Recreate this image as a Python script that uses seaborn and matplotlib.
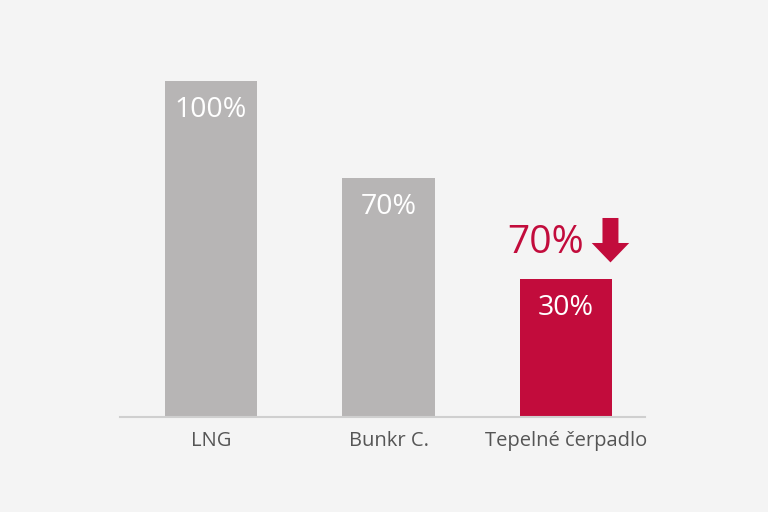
import numpy as np
import pandas as pd
import seaborn as sns
import matplotlib.pyplot as plt
from matplotlib.transforms import offset_copy

# chart data
categories = ['LNG', 'Bunkr C.', 'Tepelné čerpadlo']
bar_heights = [100, 71, 41]
bar_labels = ['100%', '70%', '30%']
reduction_label = '70%'

gray = '#b7b5b5'
red = '#c20c3c'
bg = '#f4f4f4'

sns.set_style('white')
plt.rcParams['font.family'] = ['Open Sans', 'DejaVu Sans']

df = pd.DataFrame({'category': categories, 'height': bar_heights})

fig = plt.figure(figsize=(7.68, 5.12), dpi=100, facecolor=bg)
ax = fig.add_axes([120 / 768, 95 / 512, 525 / 768, 370 / 512])
ax.set_facecolor(bg)

sns.barplot(data=df, x='category', y='height', hue='category',
            palette=[gray, gray, red], width=0.52, saturation=1,
            legend=False, linewidth=0, edgecolor='none', ax=ax)

ax.set_xlim(-0.513, 2.445)
ax.set_ylim(0, 110)
ax.set_xlabel('')
ax.set_ylabel('')
ax.set_yticks([])
for side in ['top', 'left', 'right']:
    ax.spines[side].set_visible(False)
ax.spines['bottom'].set_color('#cfcfcf')
ax.spines['bottom'].set_linewidth(1.5)
ax.tick_params(axis='x', length=0, pad=10, labelsize=14.5, labelcolor='#555555')

# labels inside the bars
for i, (h, lab) in enumerate(zip(bar_heights, bar_labels)):
    ax.annotate(lab, xy=(i, h), xytext=(0, -21), textcoords='offset points',
                ha='center', va='center', color='white', fontsize=20.5)

# reduction label and arrow above the last bar
last = len(categories) - 1
ax.annotate(reduction_label, xy=(last, bar_heights[last]), xytext=(-15, 26),
            textcoords='offset points', ha='center', va='center',
            color=red, fontsize=28)
tip = offset_copy(ax.transData, fig=fig, x=32, y=12, units='points')
ax.annotate('', xy=(last, bar_heights[last]), xycoords=tip,
            xytext=(0, 32), textcoords='offset points',
            arrowprops=dict(arrowstyle='simple,head_length=14,head_width=27,tail_width=11.5',
                            mutation_scale=1, color=red, shrinkA=0, shrinkB=0, lw=0))

fig.savefig('out.png', dpi=100, facecolor=bg)
